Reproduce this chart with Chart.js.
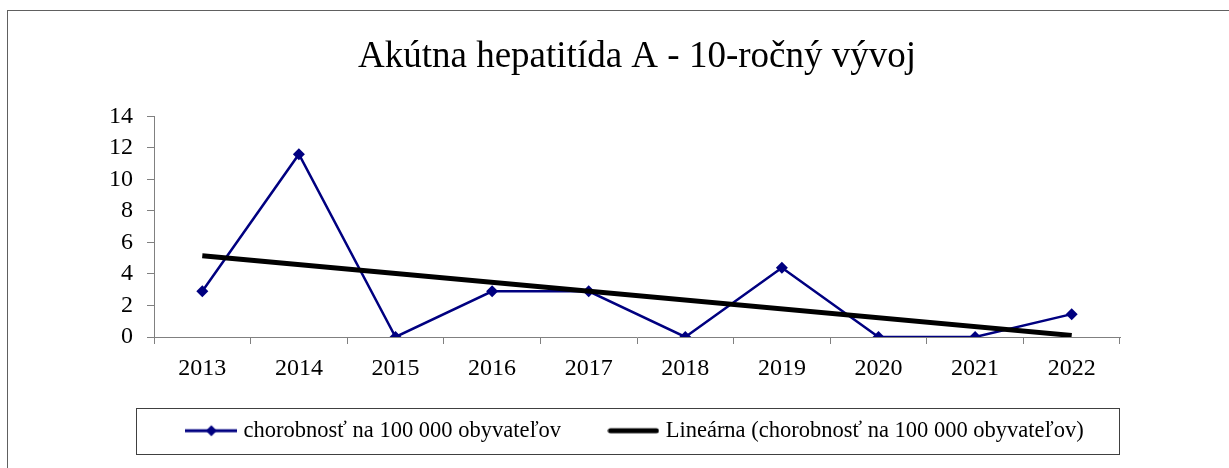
<!DOCTYPE html>
<html>
<head>
<meta charset="utf-8">
<script src="https://cdn.jsdelivr.net/npm/chart.js@4/dist/chart.umd.min.js"></script>
<style>
  html, body { margin: 0; padding: 0; background: #fff; overflow: hidden; }
  #frame { position: absolute; left: 7px; top: 10px; width: 1400px; height: 600px; border: 1px solid #606060; }
  #chart { position: absolute; left: 0; top: 0; }
</style>
</head>
<body>
<div id="frame"></div>
<canvas id="chart" width="1229" height="468"></canvas>
<script>
const years = ["2013", "2014", "2015", "2016", "2017", "2018", "2019", "2020", "2021", "2022"];
const incidence = [2.9, 11.6, 0, 2.9, 2.9, 0, 4.4, 0, 0, 1.45];
// trend line ends (Excel linear trendline)
const trendYears = ["2013", "2022"];
const trendValues = [5.15, 0.1];
const yTicks = [0, 2, 4, 6, 8, 10, 12, 14];

const seriesName = "chorobnosť na 100 000 obyvateľov";
const trendName = "Lineárna (chorobnosť na 100 000 obyvateľov)";
const navy = "#000080";
const serif = "'Liberation Serif', 'Times New Roman', serif";

// small pictures for the legend samples (a bit wider than the legend box)
function sampleLine(color, width, diamond) {
  const c = document.createElement("canvas");
  c.width = 52; c.height = 14;
  const g = c.getContext("2d");
  g.strokeStyle = color;
  g.lineWidth = width;
  g.lineCap = diamond ? "butt" : "round";
  g.beginPath();
  g.moveTo(diamond ? 0 : 3, 7);
  g.lineTo(diamond ? 52 : 49, 7);
  g.stroke();
  if (diamond) {
    g.fillStyle = color;
    g.beginPath();
    g.moveTo(26, 1.5); g.lineTo(31.5, 7); g.lineTo(26, 12.5); g.lineTo(20.5, 7);
    g.closePath();
    g.fill();
  }
  return c;
}

const legendBox = {
  id: "legendBox",
  afterDraw(chart) {
    const lg = chart.legend;
    if (!lg || !lg.legendHitBoxes.length) return;
    const hb = lg.legendHitBoxes[0];
    const cy = hb.top + hb.height / 2;
    const ctx = chart.ctx;
    ctx.save();
    ctx.strokeStyle = "#404040";
    ctx.lineWidth = 1;
    ctx.strokeRect(chart.chartArea.left - 17.5, Math.round(cy - 23) + 0.5, chart.chartArea.right - chart.chartArea.left + 17, 46);
    ctx.restore();
  }
};

new Chart(document.getElementById("chart"), {
  type: "line",
  data: {
    labels: years,
    datasets: [
      {
        label: seriesName,
        data: incidence,
        borderColor: navy,
        backgroundColor: navy,
        borderWidth: 2.5,
        pointStyle: "rectRot",
        pointRadius: 6,
        pointBorderWidth: 0,
        tension: 0,
        order: 1
      },
      {
        label: trendName,
        data: trendYears.map((y, i) => ({ x: y, y: trendValues[i] })),
        borderColor: "#000",
        backgroundColor: "#000",
        borderWidth: 5,
        pointRadius: 0,
        order: 0
      }
    ]
  },
  options: {
    responsive: false,
    devicePixelRatio: 1,
    animation: false,
    layout: { padding: { left: 0, right: 109, top: 0, bottom: 16 } },
    plugins: {
      tooltip: { enabled: false },
      title: {
        display: true,
        fullSize: false,
        text: "Akútna hepatitída A - 10-ročný vývoj",
        color: "#000",
        font: { family: serif, size: 37, weight: "normal" },
        padding: { top: 35, bottom: 37 }
      },
      legend: {
        position: "bottom",
        fullSize: false,
        labels: {
          usePointStyle: true,
          pointStyleWidth: 42,
          padding: 12,
          color: "#000",
          font: { family: serif, size: 22.5 },
          generateLabels: () => [
            // trailing spaces keep the wider gap between the two entries
            { text: seriesName + "       ", pointStyle: sampleLine(navy, 3, true), fillStyle: navy, strokeStyle: navy, lineWidth: 0, datasetIndex: 0 },
            { text: trendName, pointStyle: sampleLine("#000", 5, false), fillStyle: "#000", strokeStyle: "#000", lineWidth: 0, datasetIndex: 1 }
          ]
        }
      }
    },
    scales: {
      x: {
        type: "category",
        offset: true,
        afterFit: s => { s.height = 70.5; },
        grid: { offset: true, drawOnChartArea: false, drawTicks: true, tickLength: 7, color: "#808080" },
        border: { color: "#808080", width: 1 },
        ticks: { color: "#000", padding: 10, maxRotation: 0, autoSkip: false, font: { family: serif, size: 24 } }
      },
      y: {
        min: 0,
        max: 14,
        afterFit: s => { s.width = 154; },
        afterBuildTicks: s => { s.ticks = yTicks.map(v => ({ value: v })); },
        grid: { drawOnChartArea: false, drawTicks: true, tickLength: 7, color: "#808080" },
        border: { color: "#808080", width: 1 },
        ticks: { color: "#000", padding: 14, autoSkip: false, font: { family: serif, size: 24 } }
      }
    }
  },
  plugins: [legendBox]
});
</script>
</body>
</html>
